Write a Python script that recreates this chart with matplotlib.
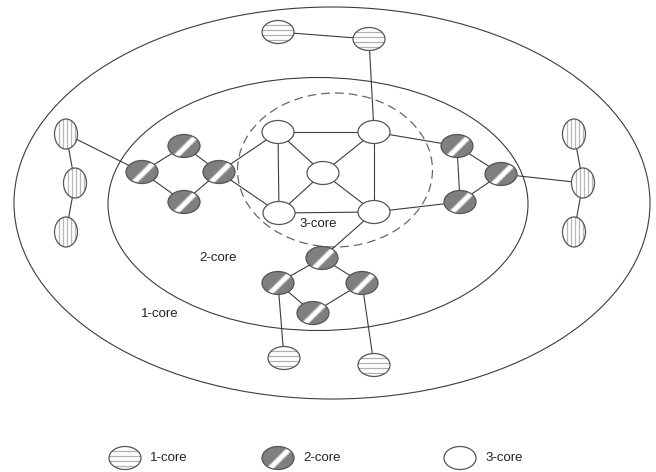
import numpy as np
import matplotlib
matplotlib.use("Agg")
import matplotlib.pyplot as plt
from matplotlib.patches import Ellipse

plt.rcParams['font.family'] = ['Liberation Sans', 'DejaVu Sans']

# nodos: nombre, x, y (pixeles), core
node_names = ['a1', 'a2', 'a3', 'a4', 'a5',
              'b1', 'b2', 'b3', 'b4',
              'c1', 'c2', 'c3',
              'd1', 'd2', 'd3', 'd4',
              'e1', 'e2', 'e3', 'f1', 'f2', 'f3',
              'g1', 'g2', 'h1', 'h2']
node_x = [278, 374, 323, 279, 374,
          142, 184, 219, 184,
          457, 501, 460,
          322, 278, 362, 313,
          66, 75, 66, 574, 583, 574,
          284, 374, 278, 369]
node_y = [132, 132, 173, 213, 212,
          172, 146, 172, 202,
          146, 174, 202,
          258, 283, 283, 313,
          134, 183, 232, 134, 183, 232,
          358, 365, 32, 39]
node_core = [3, 3, 3, 3, 3,
             2, 2, 2, 2,
             2, 2, 2,
             2, 2, 2, 2,
             1, 1, 1, 1, 1, 1,
             1, 1, 1, 1]
# 'v' = rayas verticales, 'h' = rayas horizontales
node_stripe = ['', '', '', '', '',
               '', '', '', '',
               '', '', '',
               '', '', '', '',
               'v', 'v', 'v', 'v', 'v', 'v',
               'h', 'h', 'h', 'h']

edges = [('a1', 'a2'), ('a1', 'a4'), ('a2', 'a5'), ('a4', 'a5'),
         ('a1', 'a3'), ('a2', 'a3'), ('a4', 'a3'), ('a5', 'a3'),
         ('b1', 'b2'), ('b2', 'b3'), ('b1', 'b4'), ('b4', 'b3'),
         ('b3', 'a1'), ('b3', 'a4'),
         ('c1', 'c3'), ('c1', 'c2'), ('c3', 'c2'),
         ('c1', 'a2'), ('c3', 'a5'),
         ('d1', 'd2'), ('d1', 'd3'), ('d2', 'd4'), ('d4', 'd3'),
         ('d1', 'a5'),
         ('e1', 'e2'), ('e2', 'e3'), ('e1', 'b1'),
         ('f1', 'f2'), ('f2', 'f3'), ('f2', 'c2'),
         ('d2', 'g1'), ('d3', 'g2'),
         ('h1', 'h2'), ('h2', 'a2')]

legend_labels = ['1-core', '2-core', '3-core']
legend_x = [125, 278, 460]

pos = {n: (x, y) for n, x, y in zip(node_names, node_x, node_y)}

fig = plt.figure(figsize=(6.56, 4.72), dpi=100)
ax = fig.add_axes([0, 0, 1, 1])
ax.axis('off')

line_c = '#3c3c3c'
edge_c = '#555555'

# anillos de k-core
ax.add_patch(Ellipse((332, 203), 636, 392, fill=False, ec=line_c, lw=0.8, zorder=1))
ax.add_patch(Ellipse((318, 204), 420, 253, fill=False, ec=line_c, lw=0.8, zorder=1))
ax.add_patch(Ellipse((335, 170), 195, 154, fill=False, ec='#666666', lw=0.9,
                     ls=(0, (7, 4)), zorder=1))

for u, v in edges:
    ax.plot([pos[u][0], pos[v][0]], [pos[u][1], pos[v][1]], color=line_c, lw=0.8, zorder=2)


def draw_node(x, y, core, stripe):
    if stripe == 'v':
        w, h = 23, 30
    else:
        w, h = 32, 23
    base = Ellipse((x, y), w, h, fc='white', ec='none', zorder=3)
    ax.add_patch(base)
    if core == 2:
        nx, ny = 60, 44
        X, Y = np.meshgrid(np.linspace(-w / 2, w / 2, nx), np.linspace(-h / 2, h / 2, ny))
        s = X + Y
        v = np.clip(1 - (np.abs(s - 3) - 2.5) / 2.5, 0, 1)
        g = 0.5 + 0.5 * v
        img = np.dstack([g, g, g])
        im = ax.imshow(img, extent=(x - w / 2, x + w / 2, y + h / 2, y - h / 2),
                       origin='upper', aspect='auto', interpolation='bilinear', zorder=4)
        im.set_clip_path(base)
    elif stripe == 'h':
        for k in [-0.3, -0.08, 0.15, 0.36]:
            ln, = ax.plot([x - w, x + w], [y + k * h, y + k * h], color='#b0b0b0', lw=0.9, zorder=4)
            ln.set_clip_path(base)
    elif stripe == 'v':
        for k in [-0.32, -0.14, 0.04, 0.22, 0.38]:
            ln, = ax.plot([x + k * w, x + k * w], [y - h, y + h], color='#b8b8b8', lw=0.9, zorder=4)
            ln.set_clip_path(base)
    ax.add_patch(Ellipse((x, y), w, h, fill=False, ec=edge_c, lw=0.9, zorder=5))


for x, y, c, s in zip(node_x, node_y, node_core, node_stripe):
    draw_node(x, y, c, s)

ax.text(318, 224, '3-core', fontsize=9.5, ha='center', va='center', color='#222222', zorder=6)
ax.text(218, 258, '2-core', fontsize=9.5, ha='center', va='center', color='#222222', zorder=6)
ax.text(160, 314, '1-core', fontsize=9.5, ha='center', va='center', color='#222222', zorder=6)

# leyenda
for lx, lab, c in zip(legend_x, legend_labels, [1, 2, 3]):
    draw_node(lx, 458, c, 'h' if c == 1 else '')
    ax.text(lx + 25, 458, lab, fontsize=9.5, ha='left', va='center', color='#222222')

ax.set_xlim(0, 656)
ax.set_ylim(472, 0)

plt.savefig("out.png", dpi=100)
